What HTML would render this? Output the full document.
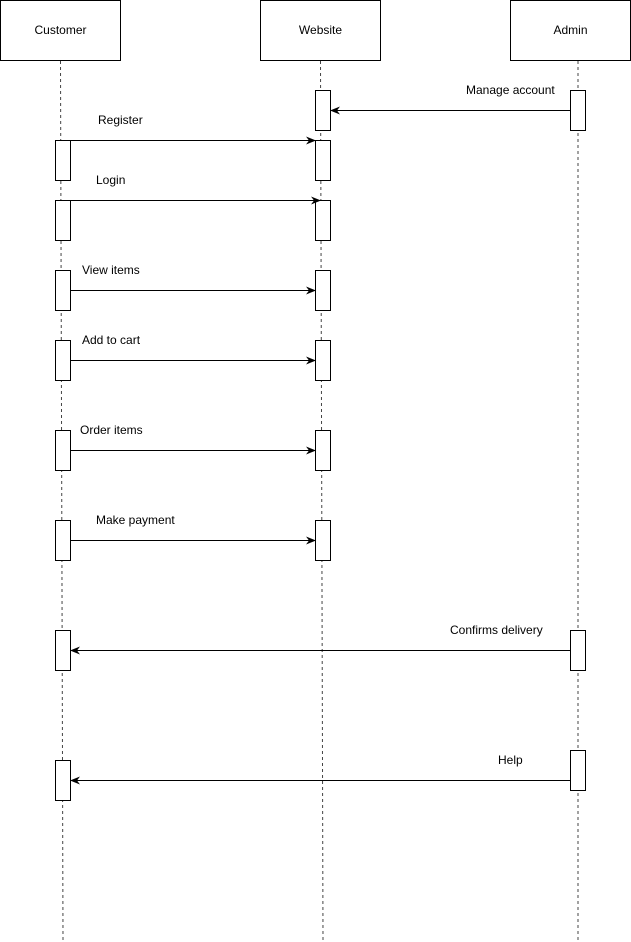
<!DOCTYPE html>
<html><head><meta charset="utf-8"><style>
html,body{margin:0;padding:0;background:#fff}
svg{display:block}
text{font-family:"Liberation Sans",sans-serif;font-size:12px;fill:#000}
</style></head><body>
<svg width="631" height="942" viewBox="0 0 631 942">
<defs><marker id="a" markerWidth="10" markerHeight="8" refX="9" refY="4" orient="auto" markerUnits="userSpaceOnUse"><path d="M0,0 L10,4 L0,8 L3,4 Z" fill="#000"/></marker></defs>
<g fill="#fff" stroke="#000" stroke-width="1">
<rect x="0.5" y="0.5" width="120" height="60"/>
<rect x="260.5" y="0.5" width="120" height="60"/>
<rect x="510.5" y="0.5" width="120" height="60"/>
</g>
<text x="60.5" y="34" text-anchor="middle">Customer</text>
<text x="320.5" y="34" text-anchor="middle">Website</text>
<text x="570.5" y="34" text-anchor="middle">Admin</text>
<g stroke="#444" stroke-dasharray="3,3" stroke-width="1">
<path d="M60.5 61 L63 940"/>
<path d="M320.5 61 L323 940"/>
<path d="M578 61 L578 940"/>
</g>
<g fill="#fff" stroke="#000">
<rect x="315.5" y="90.5" width="15" height="40"/>
<rect x="570.5" y="90.5" width="15" height="40"/>
<rect x="55.5" y="140.5" width="15" height="40"/>
<rect x="315.5" y="140.5" width="15" height="40"/>
<rect x="55.5" y="200.5" width="15" height="40"/>
<rect x="315.5" y="200.5" width="15" height="40"/>
<rect x="55.5" y="270.5" width="15" height="40"/>
<rect x="315.5" y="270.5" width="15" height="40"/>
<rect x="55.5" y="340.5" width="15" height="40"/>
<rect x="315.5" y="340.5" width="15" height="40"/>
<rect x="55.5" y="430.5" width="15" height="40"/>
<rect x="315.5" y="430.5" width="15" height="40"/>
<rect x="55.5" y="520.5" width="15" height="40"/>
<rect x="315.5" y="520.5" width="15" height="40"/>
<rect x="55.5" y="630.5" width="15" height="40"/>
<rect x="570.5" y="630.5" width="15" height="40"/>
<rect x="55.5" y="760.5" width="15" height="40"/>
<rect x="570.5" y="750.5" width="15" height="40"/>
</g>
<g stroke="#000" stroke-width="1" marker-end="url(#a)">
<path d="M570 110.5 L331 110.5"/>
<path d="M70 140.5 L315 140.5"/>
<path d="M70 200.5 L320 200.5"/>
<path d="M70 290.5 L315 290.5"/>
<path d="M70 360.5 L315 360.5"/>
<path d="M70 450.5 L315 450.5"/>
<path d="M70 540.5 L315 540.5"/>
<path d="M570 650.5 L71 650.5"/>
<path d="M570 780.5 L71 780.5"/>
</g>
<text x="466" y="94">Manage account</text>
<text x="98" y="124">Register</text>
<text x="96" y="184">Login</text>
<text x="82" y="274">View items</text>
<text x="82" y="344">Add to cart</text>
<text x="80" y="434">Order items</text>
<text x="96" y="524">Make payment</text>
<text x="450" y="634">Confirms delivery</text>
<text x="498" y="764">Help</text>
</svg>
</body></html>
